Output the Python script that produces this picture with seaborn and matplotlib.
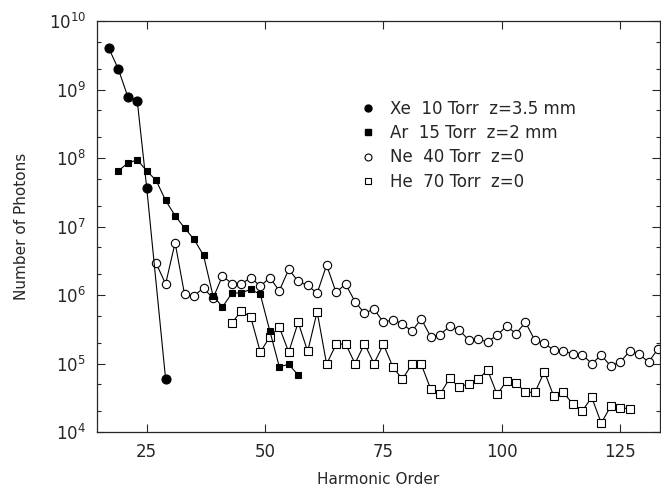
import seaborn as sns
import matplotlib.pyplot as plt
from matplotlib.lines import Line2D
from matplotlib.ticker import LogLocator, NullFormatter, FixedLocator, NullLocator

# harmonic order / number of photons for each gas
xe_order = [17, 19, 21, 23, 25, 29]
xe_photons = [4.0e9, 2.0e9, 7.9e8, 6.9e8, 3.7e7, 5.9e4]

ar_order = [19, 21, 23, 25, 27, 29, 31, 33, 35, 37, 39, 41, 43, 45, 47, 49, 51, 53, 55, 57]
ar_photons = [6.5e7, 8.4e7, 9.4e7, 6.5e7, 4.7e7, 2.4e7, 1.44e7, 9.5e6, 6.5e6, 3.8e6,
              9.8e5, 6.7e5, 1.06e6, 1.08e6, 1.21e6, 1.02e6, 3.0e5, 9.0e4, 9.7e4, 6.8e4]

ne_order = [27, 29, 31, 33, 35, 37, 39, 41, 43, 45, 47, 49, 51, 53, 55, 57, 59, 61,
            63, 65, 67, 69, 71, 73, 75, 77, 79, 81, 83, 85, 87, 89, 91, 93, 95, 97,
            99, 101, 103, 105, 107, 109, 111, 113, 115, 117, 119, 121, 123, 125, 127,
            129, 131, 133]
ne_photons = [2.9e6, 1.45e6, 5.8e6, 1.02e6, 9.7e5, 1.27e6, 8.9e5, 1.9e6, 1.47e6, 1.45e6,
              1.8e6, 1.34e6, 1.8e6, 1.15e6, 2.37e6, 1.58e6, 1.38e6, 1.06e6, 2.74e6, 1.09e6,
              1.45e6, 8.0e5, 5.4e5, 6.25e5, 4.0e5, 4.36e5, 3.8e5, 2.95e5, 4.47e5, 2.44e5,
              2.65e5, 3.5e5, 3.1e5, 2.2e5, 2.25e5, 2.08e5, 2.6e5, 3.5e5, 2.74e5, 4.0e5,
              2.17e5, 1.97e5, 1.56e5, 1.52e5, 1.38e5, 1.34e5, 1.0e5, 1.32e5, 9.2e4, 1.05e5,
              1.51e5, 1.37e5, 1.05e5, 1.64e5]

he_order = [43, 45, 47, 49, 51, 53, 55, 57, 59, 61, 63, 65, 67, 69, 71, 73, 75, 77, 79,
            81, 83, 85, 87, 89, 91, 93, 95, 97, 99, 101, 103, 105, 107, 109, 111, 113,
            115, 117, 119, 121, 123, 125, 127]
he_photons = [3.9e5, 5.9e5, 4.7e5, 1.47e5, 2.44e5, 3.4e5, 1.47e5, 4.0e5, 1.5e5, 5.7e5,
              9.8e4, 1.9e5, 1.94e5, 1.0e5, 1.94e5, 1.0e5, 1.9e5, 8.9e4, 5.9e4, 9.7e4,
              9.7e4, 4.2e4, 3.6e4, 6.1e4, 4.5e4, 5.1e4, 5.9e4, 8.0e4, 3.55e4, 5.5e4,
              5.2e4, 3.8e4, 3.8e4, 7.6e4, 3.3e4, 3.8e4, 2.55e4, 2.04e4, 3.2e4, 1.35e4,
              2.37e4, 2.26e4, 2.19e4]

labels = ["Xe  10 Torr  z=3.5 mm", "Ar  15 Torr  z=2 mm",
          "Ne  40 Torr  z=0", "He  70 Torr  z=0"]

sns.set_style("ticks")
plt.rcParams["font.family"] = ["DejaVu Sans"]

fig = plt.figure(figsize=(6.61, 4.93), dpi=100)
ax = fig.add_axes([0.1467, 0.1237, 0.8517, 0.8337])

line_kw = dict(color="k", lw=0.8, markeredgecolor="k", markeredgewidth=0.8)
sns.lineplot(x=ne_order, y=ne_photons, ax=ax, marker="o", markersize=6,
             markerfacecolor="white", **line_kw)
sns.lineplot(x=he_order, y=he_photons, ax=ax, marker="s", markersize=5.5,
             markerfacecolor="white", **line_kw)
sns.lineplot(x=ar_order, y=ar_photons, ax=ax, marker="s", markersize=4.5,
             markerfacecolor="k", **line_kw)
sns.lineplot(x=xe_order, y=xe_photons, ax=ax, marker="o", markersize=6.5,
             markerfacecolor="k", **line_kw)

ax.set_yscale("log")
ax.set_ylim(1e4, 1e10)
ax.set_xlim(14.5, 133.4)
ax.xaxis.set_major_locator(FixedLocator([25, 50, 75, 100, 125]))
ax.xaxis.set_minor_locator(NullLocator())
ax.yaxis.set_major_locator(LogLocator(base=10, numticks=10))
ax.yaxis.set_minor_locator(LogLocator(base=10, subs=[2, 5], numticks=10))
ax.yaxis.set_minor_formatter(NullFormatter())
ax.tick_params(which="both", direction="in", top=True, right=True, width=0.8,
               labelsize=12, pad=8)
ax.tick_params(which="major", length=6)
ax.tick_params(which="minor", length=3)
for s in ax.spines.values():
    s.set_linewidth(0.9)

ax.set_xlabel("Harmonic Order", fontsize=11, labelpad=8)
ax.set_ylabel("Number of Photons", fontsize=11, labelpad=14)

handles = [
    Line2D([], [], ls="none", marker="o", ms=5, mfc="k", mec="k"),
    Line2D([], [], ls="none", marker="s", ms=4, mfc="k", mec="k"),
    Line2D([], [], ls="none", marker="o", ms=5, mfc="white", mec="k", mew=0.8),
    Line2D([], [], ls="none", marker="s", ms=5, mfc="white", mec="k", mew=0.8),
]
ax.legend(handles, labels, loc="upper left", bbox_to_anchor=(0.44, 0.845),
          frameon=False, fontsize=12, handlelength=1.0, handletextpad=0.8,
          labelspacing=0.38)

fig.savefig("out.png", dpi=100)
